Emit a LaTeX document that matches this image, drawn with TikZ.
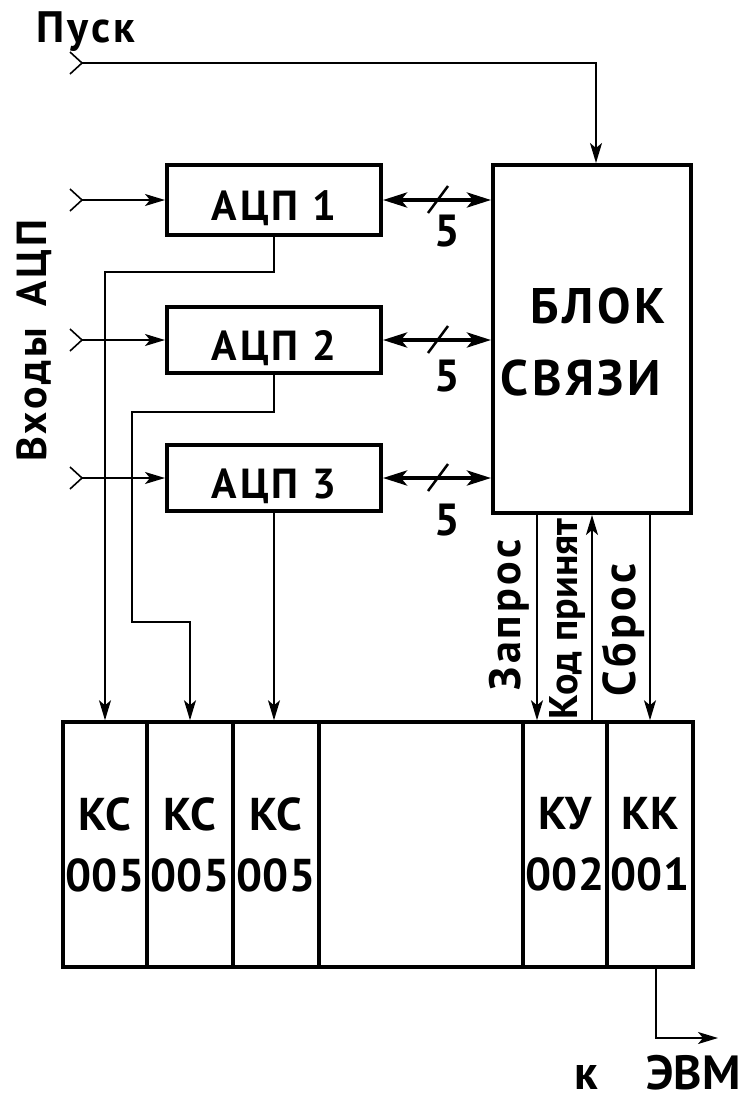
\documentclass[tikz,border=0pt]{standalone}
\usepackage{fontspec}
\setmainfont{PT Sans}
\usetikzlibrary{arrows.meta}

\begin{document}
\begin{tikzpicture}[x=1pt,y=-1pt,>={Stealth[length=20pt,width=12pt,inset=5pt]},
  box/.style={draw,line width=4pt,inner sep=0pt},
  cell/.style={draw,line width=3.5pt,inner sep=0pt,minimum height=245pt,align=center,
    font=\fontsize{46}{61}\selectfont\bfseries},
  wire/.style={line width=1.6pt},
  bus/.style={line width=4pt,{Stealth[length=24pt,width=15pt,inset=6pt]}-{Stealth[length=24pt,width=15pt,inset=6pt]}},
  txt/.style={font=\fontsize{#1}{#1}\selectfont\bfseries},
  spread/.style={font=\fontsize{#1}{#1}\selectfont\bfseries\addfontfeatures{LetterSpace=7}}]
  \useasboundingbox (0,0) rectangle (750,1101);
  % converters and the interface unit
  \node[box,minimum width=214pt,minimum height=70pt,spread=42,text height=40pt,text depth=0pt] (adc1) at (274,200) {АЦП 1};
  \node[box,minimum width=214pt,minimum height=66pt,spread=42,text height=40pt,text depth=0pt] (adc2) at (274,340) {АЦП 2};
  \node[box,minimum width=214pt,minimum height=66pt,spread=42,text height=40pt,text depth=0pt] (adc3) at (274,478) {АЦП 3};
  \node[box,minimum width=198pt,minimum height=348pt] (link) at (592,339) {};
  \node[spread=50] (blok) at (598,306) {БЛОК};
  \node[spread=50] (svyazi) at (581,378) {СВЯЗИ};
  % register cells
  \node[cell,minimum width=84pt] (cs1) at (105,844.5) {КС\\005};
  \node[cell,minimum width=86pt] (cs2) at (190,844.5) {КС\\005};
  \node[cell,minimum width=86pt] (cs3) at (276,844.5) {КС\\005};
  \node[cell,minimum width=204pt] (spare) at (421,844.5) {};
  \node[cell,minimum width=84pt] (ku) at (565,844.5) {КУ\\002};
  \node[cell,minimum width=86pt] (kk) at (650,844.5) {КК\\001};
  % inputs
  \node[spread=44,anchor=base] (pusk) at (86,42) {Пуск};
  \coordinate (go) at (82,63);
  \draw[wire] (go) ++(-12,-11) -- (go) -- ++(-12,11);
  \draw[wire,->] (go) -| ([xshift=4pt]link.north);
  \node[spread=42,rotate=90,anchor=base] (inputs) at (46,341) {Входы\enspace АЦП};
  \foreach \i/\d in {1/31,2/36,3/42}{
    \path (adc\i.west) ++(-83,0) coordinate (in\i);
    \draw[wire] (in\i) ++(-12,-11) -- (in\i) -- ++(-12,11);
    \draw[wire,->] (in\i) -- (adc\i.west);
    \draw[bus] (adc\i.east) -- (adc\i.east -| link.west) coordinate[pos=.5] (m\i);
    \draw[line width=2.5pt] ([shift={(-9,13)}]m\i) -- ([shift={(11,-14)}]m\i);
    \node[txt=45] (w\i) at ([shift={(10,\d)}]m\i) {5};
  }
  % converter outputs to the cells
  \draw[wire,->] (adc1.south) -- ++(0,35) -| (cs1.north);
  \draw[wire,->] (adc2.south) -- ++(0,37) -| ++(-142,210) -| (cs2.north);
  \draw[wire,->] (adc3.south) -- (adc3.south |- cs3.north);
  % control lines
  \draw[wire,->] ([xshift=-55pt]link.south) -- ([xshift=-28pt]ku.north);
  \draw[wire,->] (ku.north -| link.south) -- (link.south);
  \draw[wire,->] (link.south -| kk.north) -- (kk.north);
  \node[spread=44,rotate=90,anchor=base] (req) at (520,615) {Запрос};
  \node[txt=40,rotate=90,anchor=base] (ack) at (577,619) {Код принят};
  \node[spread=46,rotate=90,anchor=base] (rst) at (635,630) {Сброс};
  % output
  \coordinate (evm) at (718,1038);
  \draw[wire,->] ([xshift=6pt]kk.south) |- (evm);
  \node[txt=48,anchor=base east] (evmlbl) at (744,1089) {к\quad ЭВМ};
\end{tikzpicture}
\end{document}
